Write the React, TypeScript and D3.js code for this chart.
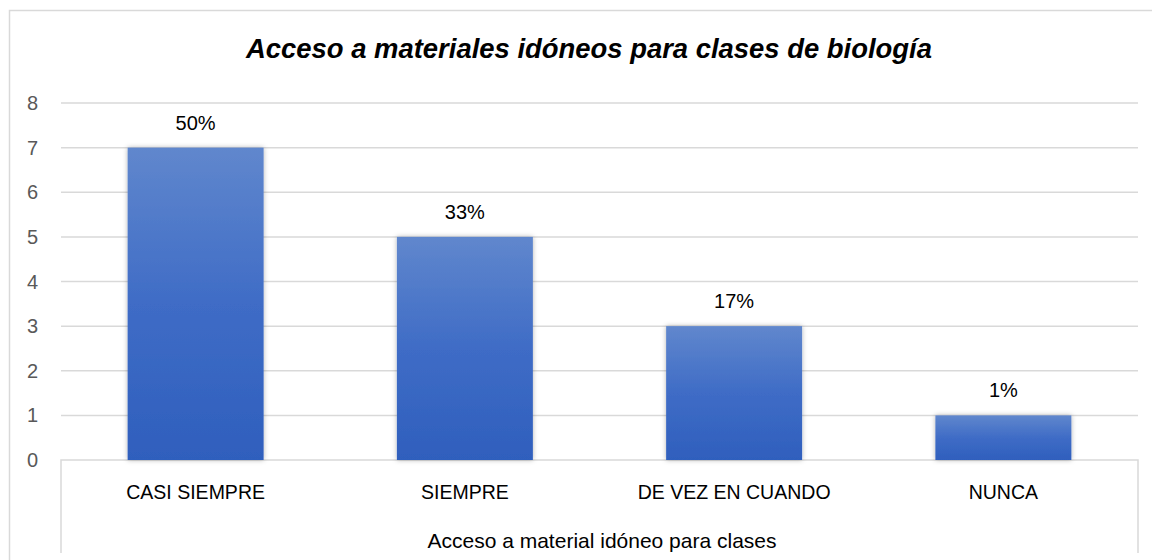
import React from "react";
import * as d3 from "d3";

const categories = ["CASI SIEMPRE", "SIEMPRE", "DE VEZ EN CUANDO", "NUNCA"];
const values = [7, 5, 3, 1];
const percentLabels = ["50%", "33%", "17%", "1%"];
const yTicks = [0, 1, 2, 3, 4, 5, 6, 7, 8];
const title = "Acceso a materiales idóneos para clases de biología";
const axisTitle = "Acceso a material idóneo para clases";

const W = 1152;
const H = 560;
const left = 61;
const right = 1138;
const top = 103;
const bottom = 460;
const boxBottom = 553;
const font = "'Liberation Sans', Arial, sans-serif";

export default function App() {
  const y = d3.scaleLinear().domain([0, 8]).range([bottom, top]);
  const x = d3
    .scaleBand<string>()
    .domain(categories)
    .range([left, right])
    .paddingInner(0.495)
    .paddingOuter(0.2475);

  return (
    <svg
      width={W}
      height={H}
      style={{ position: "absolute", left: 0, top: 0, background: "#fff" }}
    >
      <defs>
        <linearGradient id="barGrad" x1="0" y1="0" x2="0" y2="1">
          <stop offset="0%" stopColor="#6087cd" />
          <stop offset="50%" stopColor="#3f6cc6" />
          <stop offset="100%" stopColor="#2f5fbd" />
        </linearGradient>
        <filter id="shadow" x="-10%" y="-10%" width="120%" height="120%">
          <feDropShadow dx="0" dy="0" stdDeviation="2.5" floodColor="#000" floodOpacity="0.3" />
        </filter>
      </defs>
      <rect x={0} y={0} width={W} height={H} fill="#fff" />
      <rect
        x={9.5}
        y={10.5}
        width={W}
        height={H}
        fill="none"
        stroke="#d9d9d9"
        strokeWidth={1.5}
      />
      <text
        x={589}
        y={58}
        textAnchor="middle"
        fontFamily={font}
        fontSize={28}
        fontWeight="bold"
        fontStyle="italic"
        fill="#000"
        textLength={686}
        lengthAdjust="spacingAndGlyphs"
      >
        {title}
      </text>
      {yTicks
        .filter((t) => t > 0)
        .map((t) => (
          <line
            key={"g" + t}
            x1={left}
            x2={right}
            y1={y(t)}
            y2={y(t)}
            stroke="#d9d9d9"
            strokeWidth={1.5}
          />
        ))}
      {yTicks.map((t) => (
        <text
          key={"t" + t}
          x={38}
          y={y(t)}
          dy="0.35em"
          textAnchor="end"
          fontFamily={font}
          fontSize={20}
          fill="#595959"
        >
          {t}
        </text>
      ))}
      <path
        d={`M${left},${boxBottom}V${bottom}H${right}V${boxBottom}`}
        fill="none"
        stroke="#d9d9d9"
        strokeWidth={1.5}
      />
      {categories.map((c, i) => (
        <g key={c}>
          <rect
            x={x(c)}
            y={y(values[i])}
            width={x.bandwidth()}
            height={bottom - y(values[i])}
            fill="url(#barGrad)"
            filter="url(#shadow)"
          />
          <text
            x={(x(c) as number) + x.bandwidth() / 2}
            y={y(values[i]) - 18}
            textAnchor="middle"
            fontFamily={font}
            fontSize={20}
            fill="#000"
          >
            {percentLabels[i]}
          </text>
          <text
            x={(x(c) as number) + x.bandwidth() / 2}
            y={499}
            textAnchor="middle"
            fontFamily={font}
            fontSize={19.5}
            fill="#000"
          >
            {c}
          </text>
        </g>
      ))}
      <text
        x={602}
        y={548}
        textAnchor="middle"
        fontFamily={font}
        fontSize={21}
        fill="#000"
      >
        {axisTitle}
      </text>
    </svg>
  );
}
